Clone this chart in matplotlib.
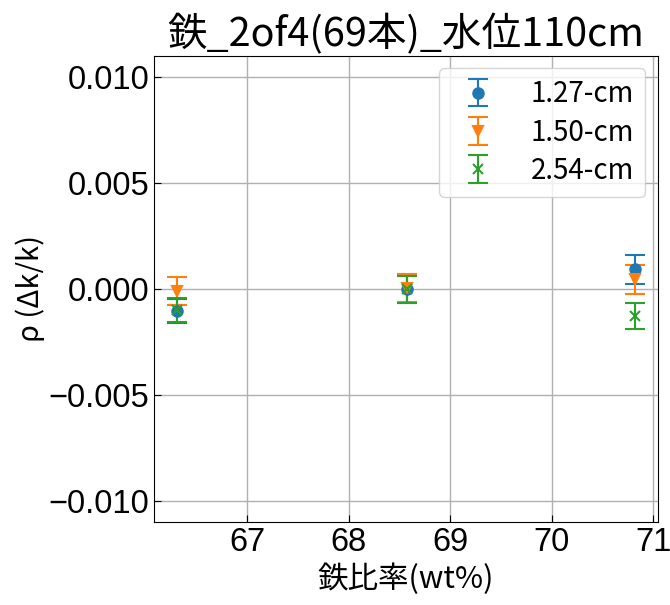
import numpy as np
import matplotlib
matplotlib.use("Agg")
import matplotlib.pyplot as plt

# ---- data ----
fe_ratio = [66.31, 68.57, 70.82]          # 鉄比率 (wt%)
rho_127 = [-0.00105, 0.0000, 0.00092]
err_127 = [0.00058, 0.00065, 0.00068]
rho_150 = [-0.00008, 0.00002, 0.00045]
err_150 = [0.00066, 0.00066, 0.00067]
rho_254 = [-0.00098, -0.00002, -0.00128]
err_254 = [0.00056, 0.00064, 0.00062]

series = [
    ("1.27-cm", rho_127, err_127, "o", "#1f77b4"),
    ("1.50-cm", rho_150, err_150, "v", "#ff7f0e"),
    ("2.54-cm", rho_254, err_254, "x", "#2ca02c"),
]

plt.rcParams['font.family'] = ['Liberation Sans', 'Noto Sans CJK JP', 'DejaVu Sans']
cjk = ['Noto Sans CJK JP', 'DejaVu Sans']

fig = plt.figure(figsize=(6.7, 6.05), dpi=100)
ax = fig.add_axes([0.23, 0.137, 0.752, 0.771])

for label, y, e, m, c in series:
    ax.errorbar(fe_ratio, y, yerr=e, fmt=m, color=c, label=label,
                capsize=7, markersize=7.5, elinewidth=1.5, capthick=1.5,
                markeredgewidth=1.5)

ax.set_ylim(-0.011, 0.011)
ax.set_yticks([-0.010, -0.005, 0.000, 0.005, 0.010])
ax.set_xticks([67, 68, 69, 70, 71])
ax.grid(True, color='#b0b0b0', linewidth=1)
ax.tick_params(direction='in', labelsize=23.5, length=5)

ax.set_title("鉄_2of4(69本)_水位110cm", fontsize=28.5, family=cjk, pad=5)
ax.set_xlabel("鉄比率(wt%)", fontsize=22, family=cjk, labelpad=4)
ax.set_ylabel("ρ (Δk/k)", fontsize=21, family=cjk, labelpad=2)

ax.legend(loc='upper right', prop={'family': cjk, 'size': 20},
          handletextpad=0.9, borderpad=0.4, labelspacing=0.3,
          borderaxespad=0.45)

fig.savefig("out.png", dpi=100)
